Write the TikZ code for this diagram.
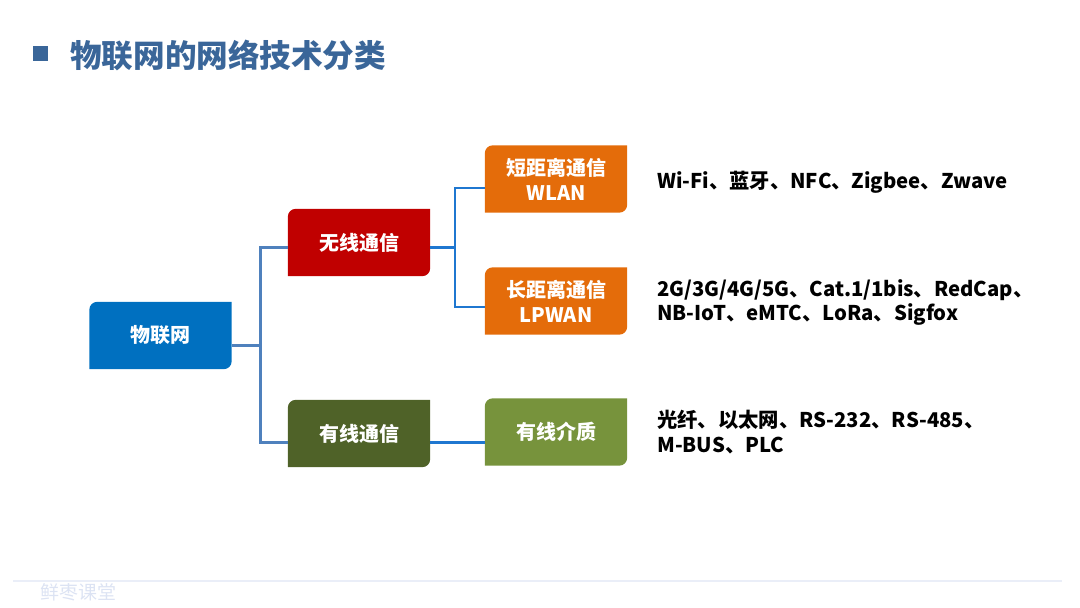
\documentclass[tikz,border=0pt]{standalone}
\usepackage{fontspec}
\setmainfont{Noto Sans CJK SC}
\usepackage{tikz,xcolor}
\usetikzlibrary{positioning,calc,backgrounds}

\definecolor{titleblue}{HTML}{3A6699}
\definecolor{rootblue}{HTML}{0070C0}
\definecolor{wlred}{HTML}{C00000}
\definecolor{wdgreen}{HTML}{4F6228}
\definecolor{netorange}{HTML}{E46C0A}
\definecolor{mdgreen}{HTML}{77933C}
\definecolor{trunkblue}{HTML}{4F81BD}
\definecolor{twigblue}{HTML}{1F77D0}
\definecolor{markgray}{HTML}{DCE3F3}

\begin{document}
\begin{tikzpicture}[x=1pt,y=1pt,
		catbox/.style={minimum width=142pt,minimum height=67pt,inner sep=0pt,align=center,
			text=white,font=\fontsize{20}{25}\selectfont\bfseries},
		itemtext/.style={anchor=west,align=left,inner sep=0pt,font=\fontsize{20.3}{24.5}\selectfont\bfseries},
		trunk/.style={draw=trunkblue,line width=3pt},
		twig/.style={draw=twigblue,line width=2.5pt}]
		\useasboundingbox (0,0) rectangle (1080,608);
		% title
		\fill[titleblue] (33,547) rectangle (48,562);
		\node[anchor=west,text=titleblue,font=\fontsize{31.6}{32}\selectfont\bfseries,inner sep=0pt] (title) at (70,553) {物联网的网络技术分类};
		% boxes
		\node[catbox] (root) at (160.5,272.5) {物联网};
		\node[catbox] (wl) at (359,365.5) {无线通信};
		\node[catbox] (wd) at (359,174.5) {有线通信};
		\node[catbox] (sr) at (556,429) {短距离通信\\WLAN};
		\node[catbox] (lr) at (556,307) {长距离通信\\LPWAN};
		\node[catbox] (md) at (556,176) {有线介质};
		\begin{pgfonlayer}{background}
			\foreach \n/\c in {root/rootblue,wl/wlred,wd/wdgreen,sr/netorange,lr/netorange,md/mdgreen}
				\fill[\c] (\n.south west) -- ([yshift=-8pt]\n.north west) arc[start angle=180,end angle=90,radius=8pt]
					-- (\n.north east) -- ([yshift=8pt]\n.south east) arc[start angle=0,end angle=-90,radius=8pt] -- cycle;
		\end{pgfonlayer}
		% connectors
		\coordinate (lj) at ([xshift=29pt,yshift=-10pt]root.east);
		\coordinate (rj) at ([xshift=25pt,yshift=-5pt]wl.east);
		\draw[trunk] ([yshift=-10pt]root.east) -- (lj);
		\draw[trunk] ([yshift=-5pt]wl.west) -| (lj) |- ([yshift=-9pt]wd.west);
		\draw[twig] ([yshift=-5pt]wl.east) -- (rj);
		\draw[twig] ([yshift=-9pt]sr.west) -| (rj) |- ([yshift=-6pt]lr.west);
		\draw[twig] ([yshift=-9pt]wd.east) -- ([yshift=-9pt]wd.east -| md.west);
		% items
		\node[itemtext] (srlist) at (657,426) {Wi-Fi、蓝牙、NFC、Zigbee、Zwave};
		\node[itemtext] (lrlist) at (657,305.5) {2G/3G/4G/5G、Cat.1/1bis、RedCap、\\NB-IoT、eMTC、LoRa、Sigfox};
		\node[itemtext] (mdlist) at (657,176) {光纤、以太网、RS-232、RS-485、\\M-BUS、PLC};
		% footer
		\draw[draw=markgray!60,line width=1.5pt] (13,27) -- (1062,27);
		\node[anchor=west,inner sep=0pt,text=markgray,font=\fontsize{19}{19}\selectfont] (mark) at (40,15.5) {鲜枣课堂};
	\end{tikzpicture}
\end{document}
